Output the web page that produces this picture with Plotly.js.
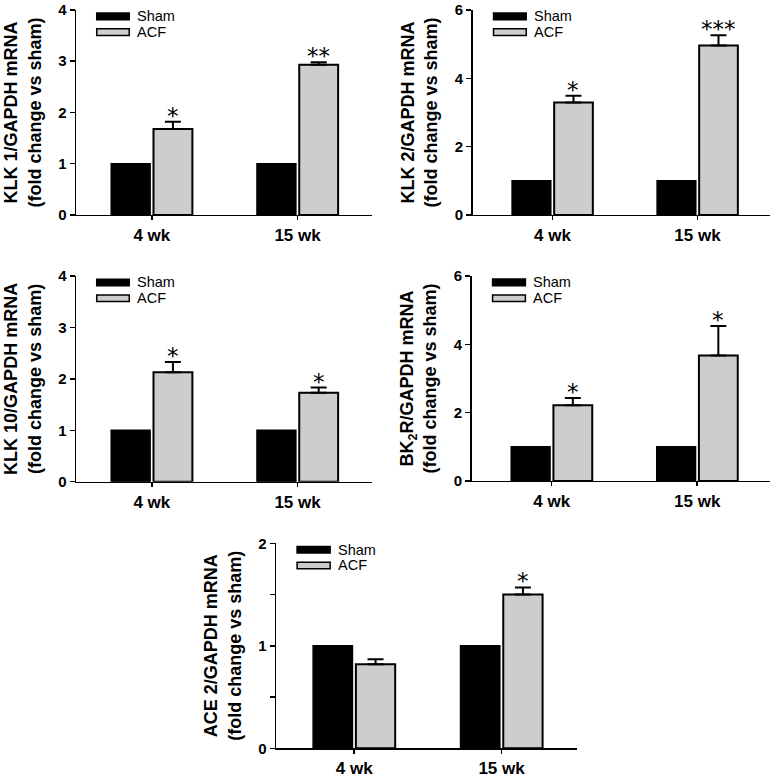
<!DOCTYPE html>
<html>
<head>
<meta charset="utf-8">
<script src="https://cdn.plot.ly/plotly-3.0.1.min.js"></script>
<style>html,body{margin:0;padding:0;background:#fff;}#chart{width:778px;height:782px;}</style>
</head>
<body>
<div id="chart"></div>
<script>
// ---- data ----
const categories = ['4 wk', '15 wk'];
const seriesNames = ['Sham', 'ACF'];

const shamKLK1 = [1, 1];
const acfKLK1 = [1.68, 2.93];
const errKLK1 = [0.14, 0.05];
const sigKLK1 = ['*', '**'];

const shamKLK2 = [1, 1];
const acfKLK2 = [3.29, 4.96];
const errKLK2 = [0.20, 0.30];
const sigKLK2 = ['*', '***'];

const shamKLK10 = [1, 1];
const acfKLK10 = [2.13, 1.73];
const errKLK10 = [0.20, 0.10];
const sigKLK10 = ['*', '*'];

const shamBK2R = [1, 1];
const acfBK2R = [2.22, 3.67];
const errBK2R = [0.21, 0.87];
const sigBK2R = ['*', '*'];

const shamACE2 = [1, 1];
const acfACE2 = [0.82, 1.50];
const errACE2 = [0.05, 0.07];
const sigACE2 = ['', '*'];

const yTitles = [
  'KLK 1/GAPDH mRNA<br>(fold change vs sham)',
  'KLK 2/GAPDH mRNA<br>(fold change vs sham)',
  'KLK 10/GAPDH mRNA<br>(fold change vs sham)',
  'BK<sub>2</sub>R/GAPDH mRNA<br>(fold change vs sham)',
  'ACE 2/GAPDH mRNA<br>(fold change vs sham)'
];
const yMax = [4, 6, 4, 6, 2];
const yStep = [1, 2, 1, 2, 1];

// ---- layout ----
const panels = [
  {sham: shamKLK1, acf: acfKLK1, err: errKLK1, sig: sigKLK1, xd: [0.0977, 0.478], yd: [0.7251, 0.9872], xr: [-0.52, 1.51]},
  {sham: shamKLK2, acf: acfKLK2, err: errKLK2, sig: sigKLK2, xd: [0.6076, 0.9897], yd: [0.7251, 0.9872], xr: [-0.55, 1.50]},
  {sham: shamKLK10, acf: acfKLK10, err: errKLK10, sig: sigKLK10, xd: [0.0977, 0.478], yd: [0.384, 0.647], xr: [-0.52, 1.51]},
  {sham: shamBK2R, acf: acfBK2R, err: errBK2R, sig: sigBK2R, xd: [0.6063, 0.9897], yd: [0.385, 0.647], xr: [-0.55, 1.50]},
  {sham: shamACE2, acf: acfACE2, err: errACE2, sig: sigACE2, xd: [0.3548, 0.7413], yd: [0.0431, 0.3052], xr: [-0.53, 1.51]}
];

const FONT = 'Liberation Sans, Arial, Helvetica, sans-serif';
const BARGAP = 0.42;
const traces = [];
const layout = {
  width: 778, height: 782,
  margin: {l: 0, r: 0, t: 0, b: 0},
  paper_bgcolor: '#fff', plot_bgcolor: '#fff',
  showlegend: false,
  barmode: 'group',
  bargap: BARGAP,
  bargroupgap: 0.08,
  font: {family: FONT, color: '#000'},
  shapes: [],
  annotations: []
};

panels.forEach((p, i) => {
  const n = i === 0 ? '' : String(i + 1);
  const xa = 'x' + n, ya = 'y' + n;
  traces.push({
    type: 'bar', x: categories, y: p.sham, name: seriesNames[0],
    xaxis: xa, yaxis: ya,
    marker: {color: '#000', line: {color: '#000', width: 1.5}},
    hoverinfo: 'skip'
  });
  traces.push({
    type: 'bar', x: categories, y: p.acf, name: seriesNames[1],
    xaxis: xa, yaxis: ya,
    marker: {color: '#cdcdcd', line: {color: '#000', width: 2}},
    error_y: {type: 'data', symmetric: false, array: p.err, arrayminus: p.err.map(() => 0),
              color: '#000', thickness: 2, width: 8},
    hoverinfo: 'skip'
  });
  layout['xaxis' + n] = {
    domain: p.xd, anchor: ya, type: 'category', range: p.xr,
    showline: true, linecolor: '#000', linewidth: 1.5,
    ticks: 'outside', ticklen: 4, tickwidth: 1.5, tickcolor: '#000',
    tickfont: {family: FONT, size: 17, weight: 'bold', color: '#000'},
    showgrid: false, zeroline: false, fixedrange: true
  };
  const yax = {
    domain: p.yd, anchor: xa, range: [0, yMax[i]], dtick: yStep[i], tick0: 0,
    showline: true, linecolor: '#000', linewidth: 1.5,
    ticks: 'outside', ticklen: 5, tickwidth: 1.5, tickcolor: '#000',
    tickfont: {family: FONT, size: 15, weight: 'bold', color: '#000'},
    showgrid: false, zeroline: false, fixedrange: true,
    title: {text: yTitles[i], font: {family: FONT, size: 18, weight: 'bold', color: '#000'}, standoff: 12}
  };
  if (i === 4) {
    yax.minor = {dtick: 0.5, ticks: 'outside', ticklen: 5, tickwidth: 1.5, tickcolor: '#000', showgrid: false};
  }
  layout['yaxis' + n] = yax;

  // significance marks above ACF error bars
  const off = (1 - BARGAP) / 4;
  p.sig.forEach((s, k) => {
    if (!s) return;
    layout.annotations.push({
      xref: xa, yref: ya, x: k + off, y: p.acf[k] + p.err[k],
      text: s, showarrow: false, xanchor: 'center', yanchor: 'bottom', yshift: -9,
      font: {family: 'DejaVu Sans, sans-serif', size: 23, color: '#000'}
    });
  });

  // legend (swatches + labels) inside each panel
  const legY = [0.969, 0.892];
  const legCol = ['#000', '#cdcdcd'];
  seriesNames.forEach((nm, k) => {
    layout.shapes.push({
      type: 'rect', xref: xa + ' domain', yref: ya + ' domain',
      x0: 0.07, x1: 0.18, y0: legY[k] - 0.016, y1: legY[k] + 0.016,
      fillcolor: legCol[k], line: {color: '#000', width: 1.5}
    });
    layout.annotations.push({
      xref: xa + ' domain', yref: ya + ' domain', x: 0.2, y: legY[k],
      text: nm, showarrow: false, xanchor: 'left', yanchor: 'middle', height: 14,
      font: {family: FONT, size: 14.5, color: '#000'}
    });
  });
});

Plotly.newPlot('chart', traces, layout, {staticPlot: true, displayModeBar: false});
</script>
</body>
</html>
